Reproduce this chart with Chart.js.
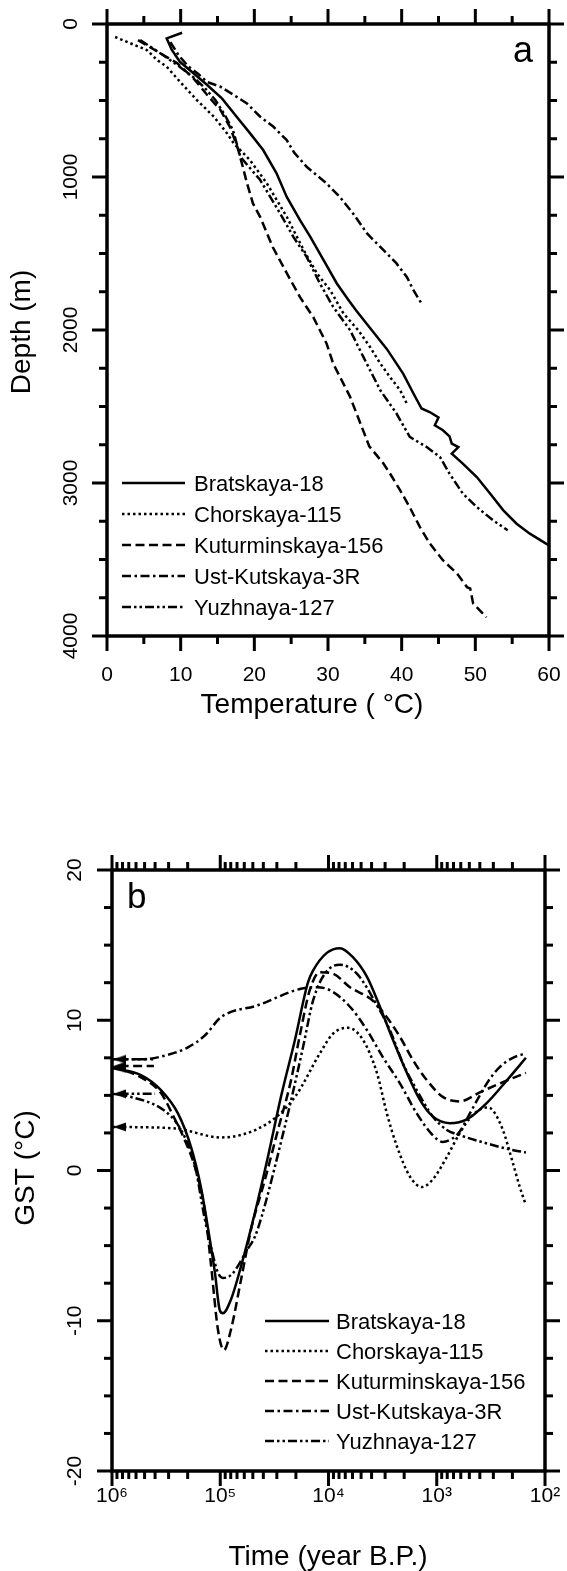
<!DOCTYPE html>
<html><head><meta charset="utf-8">
<script src="https://cdn.jsdelivr.net/npm/chart.js@4.4.1/dist/chart.umd.min.js"></script>
<style>
html,body{margin:0;padding:0;background:#fff;}
#wrap{position:relative;width:567px;height:1571px;background:#fff;}
canvas{position:absolute;left:0;display:block;}
</style></head><body>
<div id="wrap">
<canvas id="ca" width="567" height="780" style="top:0px;width:567px;height:780px"></canvas>
<canvas id="cb" width="567" height="791" style="top:780px;width:567px;height:791px"></canvas>
</div>
<script>
// ---------- names ----------
const wellNames = ['Bratskaya-18','Chorskaya-115','Kuturminskaya-156','Ust-Kutskaya-3R','Yuzhnaya-127'];

// ---------- panel a: temperature (°C) vs depth (m) ----------
const bratTemp  = [10.2, 8.1, 8.8, 9.9, 11.7, 13.6, 15.6, 17.6, 19.4, 21.2, 23.0, 24.4, 26.2, 27.6, 29.4, 31.2, 32.8, 33.8, 35.6, 38.0, 40.2, 41.6, 42.7, 43.8, 45.0, 44.5, 45.6, 46.5, 46.8, 47.7, 46.8, 48.3, 50.2, 52.0, 53.8, 55.6, 57.4, 59.6, 60.0];
const bratDepth = [57, 94, 170, 247, 320, 399, 486, 606, 713, 824, 974, 1130, 1282, 1391, 1543, 1696, 1805, 1871, 1980, 2125, 2285, 2415, 2513, 2536, 2572, 2623, 2655, 2695, 2742, 2765, 2808, 2873, 2961, 3069, 3179, 3266, 3331, 3396, 3407];
const chorTemp  = [1.1, 5.4, 6.8, 8.1, 9.9, 12.2, 14.5, 16.3, 17.2, 19.4, 21.7, 24.4, 26.7, 28.5, 30.3, 32.1, 34.1, 35.7, 37.1, 38.4, 39.8, 40.7];
const chorDepth = [85, 170, 235, 279, 377, 497, 606, 715, 780, 889, 1042, 1260, 1478, 1630, 1740, 1892, 2001, 2111, 2219, 2307, 2394, 2481];
const kutuTemp  = [4.2, 7.2, 9.5, 11.7, 13.6, 15.4, 16.7, 17.7, 18.3, 19.0, 19.8, 20.8, 22.5, 24.4, 26.2, 28.0, 29.8, 30.7, 33.0, 35.6, 37.5, 38.4, 39.8, 41.1, 42.5, 43.8, 45.6, 47.5, 48.9, 49.3, 49.7, 50.6, 51.5];
const kutuDepth = [105, 190, 255, 353, 464, 562, 674, 804, 909, 1040, 1171, 1262, 1458, 1628, 1785, 1916, 2088, 2219, 2437, 2760, 2871, 2937, 3048, 3159, 3290, 3394, 3505, 3591, 3682, 3689, 3787, 3832, 3878];
const ustTemp   = [8.6, 9.7, 11.0, 12.4, 13.6, 15.4, 17.2, 19.0, 20.8, 22.6, 24.4, 25.4, 27.1, 29.8, 31.6, 33.4, 35.3, 37.1, 39.3, 40.7, 41.6, 42.7];
const ustDepth  = [118, 203, 275, 327, 379, 410, 464, 519, 606, 672, 759, 840, 933, 1042, 1130, 1238, 1369, 1457, 1565, 1653, 1740, 1827];
const yuzTemp   = [4.5, 7.6, 9.9, 11.7, 13.3, 14.7, 16.0, 17.1, 18.1, 20.8, 23.5, 25.3, 27.1, 28.9, 30.7, 33.0, 34.8, 37.1, 39.3, 41.1, 43.4, 45.2, 46.5, 48.3, 50.2, 52.4, 54.4];
const yuzDepth  = [105, 203, 281, 347, 419, 497, 595, 693, 868, 1020, 1238, 1391, 1522, 1696, 1849, 2001, 2176, 2394, 2546, 2699, 2765, 2830, 2939, 3069, 3157, 3244, 3309];

// ---------- panel b: time (yr B.P.) vs GST (°C) ----------
const bratTime = [9.79e5, 5.40e5, 3.53e5, 2.46e5, 1.87e5, 1.51e5, 1.30e5, 1.12e5, 1.01e5, 9.45e4, 7.97e4, 6.44e4, 4.78e4, 3.63e4, 2.75e4, 2.04e4, 1.55e4, 1.39e4, 1.03e4, 7.85e3, 5.95e3, 4.42e3, 3.35e3, 2.54e3, 1.89e3, 1.43e3, 1.09e3, 757, 527, 344, 225, 150];
const bratGST  = [6.8, 6.35, 5.35, 3.8, 1.6, -1.1, -3.8, -6.8, -9.3, -9.5, -8.6, -6.4, -2.8, 0.9, 4.9, 8.7, 12.5, 13.3, 14.5, 14.8, 14.2, 12.9, 10.9, 8.7, 6.5, 4.7, 3.6, 3.15, 3.4, 4.5, 6.0, 7.5];
const chorTime = [9.79e5, 2.62e5, 9.86e4, 3.63e4, 2.04e4, 1.20e4, 9.10e3, 6.62e3, 4.81e3, 3.57e3, 2.89e3, 2.33e3, 1.77e3, 1.37e3, 1.09e3, 807, 612, 464, 344, 303, 245, 198, 171, 150];
const chorGST  = [2.9, 2.8, 2.2, 3.15, 4.9, 7.8, 9.1, 9.5, 8.7, 6.5, 3.8, 1.6, -0.4, -1.1, -0.6, 0.9, 2.5, 3.7, 4.2, 4.0, 2.7, 0.5, -1.1, -2.3];
const kutuTime = [9.79e5, 5.40e5, 3.53e5, 2.62e5, 2.12e5, 1.71e5, 1.38e5, 1.22e5, 1.05e5, 9.25e4, 7.97e4, 6.44e4, 5.21e4, 3.86e4, 2.93e4, 2.22e4, 1.84e4, 1.49e4, 1.20e4, 9.10e3, 6.34e3, 3.89e3, 2.89e3, 2.19e3, 1.66e3, 1.23e3, 879, 612, 400, 261, 150];
const kutuGST  = [6.9, 6.2, 5.15, 3.4, 2.0, 0.2, -2.8, -6.2, -10.6, -11.95, -10.6, -7.3, -3.96, -0.6, 2.7, 6.0, 9.0, 12.0, 13.2, 13.1, 12.2, 11.3, 10.2, 8.9, 7.35, 6.0, 4.9, 4.6, 5.2, 5.8, 6.5];
const ustTime  = [9.79e5, 5.40e5, 3.04e5, 1.99e5, 1.38e5, 9.86e4, 4.49e4, 1.80e4, 1.28e4, 9.71e3, 6.34e3, 4.42e3, 3.15e3, 2.19e3, 1.53e3, 1.09e3, 879, 710, 612, 494, 400, 323, 261, 198, 150];
const ustGST   = [7.4, 7.4, 7.7, 8.2, 9.0, 10.2, 11.0, 12.1, 12.2, 12.0, 10.9, 9.35, 7.55, 5.8, 3.8, 2.35, 1.9, 2.15, 2.6, 3.8, 5.0, 6.1, 6.9, 7.5, 7.8];
const yuzTime  = [9.79e5, 7.59e5, 2.85e5, 2.12e5, 1.71e5, 1.41e5, 1.19e5, 1.05e5, 9.45e4, 7.80e4, 5.66e4, 4.78e4, 4.12e4, 3.55e4, 2.81e4, 2.18e4, 1.72e4, 1.39e4, 1.08e4, 7.85e3, 5.47e3, 3.57e3, 2.71e3, 2.06e3, 1.53e3, 1.09e3, 807, 612, 344, 211, 150];
const yuzGST   = [5.1, 5.0, 3.6, 2.2, 0.3, -3.0, -5.4, -6.8, -7.15, -6.9, -5.3, -4.4, -3.0, -1.3, 1.6, 4.9, 8.2, 11.3, 13.1, 13.7, 13.1, 11.0, 9.35, 7.15, 5.35, 3.6, 2.7, 2.35, 1.8, 1.4, 1.2];

// initial (arrow) temperatures at the left edge of panel b
const arrowTime   = 8.5e5;
const arrowGST    = [6.8, 2.9, 6.95, 7.4, 5.1];
const arrowBarEnd = [null, null, 4.1e5, 4.1e5, 4.0e5];

// ---------- ticks ----------
const tempMajor  = [0, 10, 20, 30, 40, 50, 60];
const tempMinor  = [5, 15, 25, 35, 45, 55];
const depthMajor = [0, 1000, 2000, 3000, 4000];
const depthMinor = [250, 500, 750, 1250, 1500, 1750, 2250, 2500, 2750, 3250, 3500, 3750];
const timeMajor  = [1e6, 1e5, 1e4, 1e3, 1e2];
const timeLabels = ['10\u2076', '10\u2075', '10\u2074', '10\u00B3', '10\u00B2'];
const timeMinor  = [9e5, 8e5, 7e5, 6e5, 5e5, 4e5, 3e5, 2e5, 9e4, 8e4, 7e4, 6e4, 5e4, 4e4, 3e4, 2e4, 9e3, 8e3, 7e3, 6e3, 5e3, 4e3, 3e3, 2e3, 900, 800, 700, 600, 500, 400, 300, 200];
const gstMajor   = [-20, -10, 0, 10, 20];
const gstMinor   = [-17.5, -15, -12.5, -7.5, -5, -2.5, 2.5, 5, 7.5, 12.5, 15, 17.5];

// ---------- styles ----------
const FONT = '"Liberation Sans", Arial, Helvetica, sans-serif';
const dashes = [[], [2.5, 3], [9, 4.5], [9, 3.5, 2.5, 3.5], [9, 3, 2.5, 3, 2.5, 3]];

const arrowImg = document.createElement('canvas');
arrowImg.width = 13; arrowImg.height = 10;
(function(){ const c = arrowImg.getContext('2d'); c.fillStyle = '#000'; c.beginPath(); c.moveTo(0,5); c.lineTo(13,0.5); c.lineTo(13,9.5); c.closePath(); c.fill(); })();

function series(label, xs, ys, dash, smooth) {
  return { label, data: xs.map((v, i) => ({x: v, y: ys[i]})), borderColor: '#000', backgroundColor: '#000',
    borderWidth: 2.5, borderDash: dash, borderCapStyle: 'butt', pointRadius: 0, fill: false,
    tension: smooth ? 0.4 : 0, cubicInterpolationMode: smooth ? 'monotone' : 'default', isMain: true };
}

function framePlugin(o) {
  return {
    id: 'frame_' + o.id,
    afterDraw(chart) {
      const ctx = chart.ctx, a = chart.chartArea, xs = chart.scales.x, ys = chart.scales.y;
      ctx.save();
      ctx.strokeStyle = '#000'; ctx.fillStyle = '#000'; ctx.lineCap = 'butt'; ctx.setLineDash([]);
      const seg = (x1, y1, x2, y2) => { ctx.beginPath(); ctx.moveTo(x1, y1); ctx.lineTo(x2, y2); ctx.stroke(); };
      ctx.lineWidth = 3;
      o.xMajor.forEach(v => { const p = xs.getPixelForValue(v); seg(p, a.bottom, p, a.bottom + 15); seg(p, a.top, p, a.top - 15); });
      o.xMinor.forEach(v => { const p = xs.getPixelForValue(v); seg(p, a.bottom, p, a.bottom + 8); seg(p, a.top, p, a.top - 8); });
      o.yMajor.forEach(v => { const p = ys.getPixelForValue(v); seg(a.left, p, a.left - 15, p); seg(a.right, p, a.right + 15, p); });
      o.yMinor.forEach(v => { const p = ys.getPixelForValue(v); seg(a.left, p, a.left - 8, p); seg(a.right, p, a.right + 8, p); });
      ctx.lineWidth = 3.5;
      ctx.strokeRect(a.left, a.top, a.right - a.left, a.bottom - a.top);

      // tick labels
      ctx.font = '21px ' + FONT; ctx.textBaseline = 'alphabetic';
      ctx.textAlign = 'center';
      o.xMajor.forEach((v, i) => ctx.fillText(o.xLabels[i], xs.getPixelForValue(v), o.xLabelY));
      o.yMajor.forEach((v, i) => {
        ctx.save(); ctx.translate(o.yLabelX, ys.getPixelForValue(v)); ctx.rotate(-Math.PI / 2);
        ctx.textAlign = 'center'; ctx.fillText(o.yLabels[i], 0, 0); ctx.restore();
      });
      // axis titles
      ctx.font = '28px ' + FONT; ctx.textAlign = 'center';
      ctx.fillText(o.xTitle.text, o.xTitle.x, o.xTitle.y);
      ctx.save(); ctx.translate(o.yTitle.x, o.yTitle.y); ctx.rotate(-Math.PI / 2);
      ctx.fillText(o.yTitle.text, 0, 0); ctx.restore();
      // panel letter
      ctx.font = o.letter.size + 'px ' + FONT; ctx.textAlign = 'left';
      ctx.fillText(o.letter.text, o.letter.x, o.letter.y);
      // legend
      const mains = chart.data.datasets.filter(d => d.isMain);
      ctx.font = '22px ' + FONT;
      mains.forEach((d, i) => {
        const ry = o.legend.rows[i];
        ctx.lineWidth = 2.6; ctx.setLineDash(d.borderDash || []);
        seg(o.legend.x1, ry, o.legend.x2, ry);
        ctx.setLineDash([]);
        ctx.fillText(d.label, o.legend.tx, ry + 7.5);
      });
      ctx.restore();
    }
  };
}

const baseOpts = (padding, xScale, yScale) => ({
  responsive: false, animation: false, devicePixelRatio: 1,
  layout: { padding },
  plugins: { legend: { display: false }, tooltip: { enabled: false }, title: { display: false } },
  scales: { x: xScale, y: yScale },
  events: []
});
const hidden = { ticks: { display: false }, grid: { display: false }, border: { display: false }, title: { display: false } };

// ---------- chart a ----------
const dataA = [
  series(wellNames[0], bratTemp, bratDepth, dashes[0], false),
  series(wellNames[1], chorTemp, chorDepth, dashes[1], false),
  series(wellNames[2], kutuTemp, kutuDepth, dashes[2], false),
  series(wellNames[3], ustTemp, ustDepth, dashes[3], false),
  series(wellNames[4], yuzTemp, yuzDepth, dashes[4], false)
];
new Chart(document.getElementById('ca'), {
  type: 'line',
  data: { datasets: dataA },
  options: baseOpts({ top: 24, right: 18, left: 0, bottom: 0 },
    Object.assign({ type: 'linear', min: 0, max: 60, afterFit(s) { s.height = 144; s.paddingLeft = 0; s.paddingRight = 0; } }, hidden),
    Object.assign({ type: 'linear', min: 0, max: 4000, reverse: true, afterFit(s) { s.width = 107; s.paddingTop = 0; s.paddingBottom = 0; } }, hidden)),
  plugins: [framePlugin({
    id: 'a', xMajor: tempMajor, xMinor: tempMinor, yMajor: depthMajor, yMinor: depthMinor,
    xLabels: tempMajor.map(String), yLabels: depthMajor.map(String), xLabelY: 681, yLabelX: 77,
    xTitle: { text: 'Temperature ( \u00B0C)', x: 312, y: 713 },
    yTitle: { text: 'Depth (m)', x: 30, y: 332 },
    letter: { text: 'a', x: 513, y: 62, size: 36 },
    legend: { x1: 122, x2: 185, tx: 194, rows: [483, 514, 545, 576, 607] }
  })]
});

// ---------- chart b ----------
const mainB = [
  series(wellNames[0], bratTime, bratGST, dashes[0], true),
  series(wellNames[1], chorTime, chorGST, dashes[1], true),
  series(wellNames[2], kutuTime, kutuGST, dashes[2], true),
  series(wellNames[3], ustTime, ustGST, dashes[3], true),
  series(wellNames[4], yuzTime, yuzGST, dashes[4], true)
];
const arrowsB = arrowGST.map((g, i) => ({
  label: wellNames[i] + ' initial',
  data: arrowBarEnd[i] ? [{x: arrowTime, y: g}, {x: arrowBarEnd[i], y: g}] : [{x: arrowTime, y: g}],
  borderColor: '#000', backgroundColor: '#000', borderWidth: 2.5, borderDash: dashes[i], borderCapStyle: 'butt',
  pointStyle: arrowImg, pointRadius: c => c.dataIndex === 0 ? 5 : 0, fill: false, isMain: false
}));
new Chart(document.getElementById('cb'), {
  type: 'line',
  data: { datasets: mainB.concat(arrowsB) },
  options: baseOpts({ top: 90, right: 22, left: 0, bottom: 0 },
    Object.assign({ type: 'logarithmic', min: 100, max: 1e6, reverse: true, afterFit(s) { s.height = 100; s.paddingLeft = 0; s.paddingRight = 0; } }, hidden),
    Object.assign({ type: 'linear', min: -20, max: 20, afterFit(s) { s.width = 112; s.paddingTop = 0; s.paddingBottom = 0; } }, hidden)),
  plugins: [framePlugin({
    id: 'b', xMajor: timeMajor, xMinor: timeMinor, yMajor: gstMajor, yMinor: gstMinor,
    xLabels: timeLabels, yLabels: gstMajor.map(String), xLabelY: 722, yLabelX: 81,
    xTitle: { text: 'Time (year B.P.)', x: 328, y: 785 },
    yTitle: { text: 'GST (\u00B0C)', x: 34, y: 388 },
    letter: { text: 'b', x: 127, y: 128, size: 35 },
    legend: { x1: 265, x2: 329, tx: 336, rows: [541, 571, 601, 631, 661] }
  })]
});
</script>
</body></html>
